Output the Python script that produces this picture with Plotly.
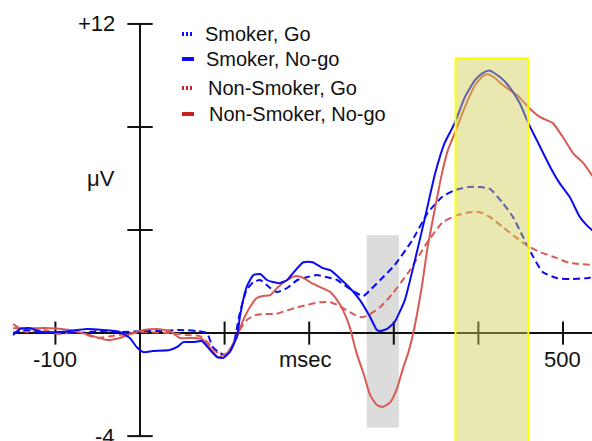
import plotly.graph_objects as go

# ---------------- data (ms, µV) ----------------
smoker_nogo_t = [-150, -142, -130, -115, -98, -83, -63, -44, -24, -12, -4, 4, 15, 35, 44, 51, 63, 73, 83, 91, 98, 106,
                 115, 118, 126, 134, 142, 150, 157, 165, 174, 181, 193, 204, 216, 225, 236, 248, 260, 272, 280, 284,
                 292, 301, 313, 325, 337, 349, 360, 372, 384, 396, 405, 413, 426, 437, 449, 459, 469, 485, 496, 508,
                 520, 528, 536]
smoker_nogo_v = [-0.08, 0.16, 0.19, 0.04, 0.04, 0.08, 0.16, 0.12, 0.04, -0.19, -0.54, -0.74, -0.70, -0.66, -0.54,
                 -0.35, -0.35, -0.31, -0.66, -0.93, -0.97, -0.74, -0.08, 0.62, 1.78, 2.25, 2.29, 2.06, 1.98, 1.94,
                 2.06, 2.33, 2.75, 2.75, 2.52, 2.44, 2.13, 1.75, 1.28, 0.62, 0.12, 0.08, 0.16, 0.43, 1.28, 2.83,
                 4.50, 6.21, 7.37, 8.15, 9.16, 9.82, 10.09, 10.19, 9.93, 9.54, 8.92, 8.15, 7.49, 6.44, 5.82, 5.28,
                 4.50, 4.19, 3.95]

smoker_go_t = [-150, -134, -115, -95, -74, -47, -24, 4, 24, 47, 67, 79, 86, 95, 100, 110, 118, 126, 134, 142, 154,
               162, 174, 186, 197, 209, 221, 233, 245, 256, 264, 272, 284, 301, 322, 340, 357, 372, 388, 402, 414,
               429, 441, 453, 465, 476, 493, 508, 528, 536]
smoker_go_v = [0.0, 0.12, 0.0, 0.04, 0.0, 0.08, 0.04, 0.08, 0.08, 0.12, 0.08, 0.0, -0.54, -0.78, -0.85, -0.47, 0.78,
               1.67, 1.98, 2.06, 1.75, 1.59, 1.75, 2.06, 2.17, 2.25, 2.17, 2.06, 1.78, 1.55, 1.44, 1.67, 2.06, 2.64,
               3.61, 4.66, 5.28, 5.55, 5.67, 5.67, 5.59, 5.04, 4.50, 3.72, 2.95, 2.37, 2.13, 2.10, 2.13, 2.17]

nonsmoker_nogo_t = [-150, -130, -106, -83, -59, -39, -24, -8, 4, 20, 35, 47, 63, 73, 83, 92, 103, 115, 122, 130, 138,
                    145, 154, 162, 174, 183, 191, 201, 213, 225, 233, 240, 248, 256, 264, 272, 280, 287, 296, 304,
                    311, 317, 323, 333, 340, 349, 357, 364, 372, 384, 396, 405, 411, 420, 429, 446, 459, 473, 488,
                    500, 512, 524, 536]
nonsmoker_nogo_v = [0.19, 0.19, 0.19, 0.12, -0.08, -0.27, -0.19, 0.0, 0.12, 0.16, 0.08, -0.19, -0.19, -0.23, -0.58,
                    -0.93, -0.78, -0.08, 0.50, 1.01, 1.36, 1.44, 1.47, 1.75, 2.06, 2.21, 2.17, 1.98, 1.78, 1.59,
                    1.28, 0.89, 0.23, -0.78, -1.55, -2.41, -2.79, -2.87, -2.68, -2.13, -1.36, -0.78, 0.0, 1.78,
                    3.34, 4.89, 6.21, 7.10, 7.76, 8.77, 9.62, 9.97, 10.05, 9.89, 9.62, 9.23, 8.77, 8.38, 8.15, 7.60,
                    6.98, 6.60, 6.05]

nonsmoker_go_t = [-150, -134, -115, -95, -74, -51, -35, -15, 4, 35, 56, 71, 83, 95, 106, 118, 126, 136, 148, 160,
                  171, 183, 197, 213, 225, 236, 248, 260, 268, 284, 299, 319, 339, 358, 375, 390, 402, 414, 429,
                  441, 457, 473, 493, 508, 536]
nonsmoker_go_v = [0.35, 0.04, 0.12, -0.04, 0.04, -0.19, -0.12, -0.04, 0.04, 0.0, -0.08, -0.12, -0.47, -0.85, -0.74,
                  0.12, 0.50, 0.70, 0.74, 0.74, 0.85, 0.97, 1.09, 1.20, 1.20, 1.05, 0.81, 0.62, 0.66, 1.01, 1.55,
                  2.44, 3.49, 4.31, 4.58, 4.69, 4.69, 4.50, 4.11, 3.80, 3.41, 3.14, 2.91, 2.72, 2.64]

series_names = ["Smoker, Go", "Smoker, No-go", "Non-Smoker, Go", "Non-Smoker, No-go"]

y_ticks = [-4, 4, 8, 12]
x_ticks = [-100, 100, 200, 300, 400, 500]
y_tick_labels = {12: "+12", -4: "-4"}
x_tick_labels = {-100: "-100", 500: "500"}

gray_window = (268, 306, -3.68, 3.8)
yellow_window = (373, 459, -4.6, 10.67)

# ---------------- styling ----------------
BLUE = "#0B0BF2"
RED = "#D85A55"
LEG_RED = "#CC2020"
FONT = "Arial, Liberation Sans, sans-serif"
W, H = 592, 441

fig = go.Figure()

def add(t, v, color, dash):
    fig.add_trace(go.Scatter(x=t, y=v, mode="lines", showlegend=False,
                             line=dict(color=color, width=2, dash=dash, shape="spline", smoothing=0.5)))

add(nonsmoker_go_t, nonsmoker_go_v, RED, "7px,4px")
add(smoker_go_t, smoker_go_v, BLUE, "7px,4px")
add(nonsmoker_nogo_t, nonsmoker_nogo_v, RED, "solid")
add(smoker_nogo_t, smoker_nogo_v, BLUE, "solid")

shapes = []
# gray window (below traces)
shapes.append(dict(type="rect", xref="x", yref="y", x0=gray_window[0], x1=gray_window[1],
                   y0=gray_window[2], y1=gray_window[3], fillcolor="#DCDCDC", line=dict(width=0), layer="below"))
# axes
shapes.append(dict(type="line", xref="x", yref="y", x0=-148, x1=545, y0=0, y1=0,
                   line=dict(color="#111", width=2), layer="below"))
shapes.append(dict(type="line", xref="x", yref="y", x0=0, x1=0, y0=-4, y1=12,
                   line=dict(color="#111", width=2), layer="below"))
for yt in y_ticks:
    shapes.append(dict(type="line", xref="x", yref="y", x0=-15, x1=15, y0=yt, y1=yt,
                       line=dict(color="#111", width=2), layer="below"))
for xt in x_ticks:
    shapes.append(dict(type="line", xref="x", yref="y", x0=xt, x1=xt, y0=-0.45, y1=0.45,
                       line=dict(color="#111", width=2), layer="below"))
# yellow window (above traces, translucent)
shapes.append(dict(type="rect", xref="x", yref="y", x0=yellow_window[0], x1=yellow_window[1],
                   y0=yellow_window[2], y1=yellow_window[3], fillcolor="rgba(205,205,80,0.45)",
                   line=dict(width=0), layer="above"))
shapes.append(dict(type="rect", xref="x", yref="y", x0=yellow_window[0], x1=yellow_window[1],
                   y0=yellow_window[2], y1=yellow_window[3], fillcolor="rgba(0,0,0,0)",
                   line=dict(color="#FFFF00", width=2), layer="above"))

# legend (manual)
leg_colors = [BLUE, BLUE, LEG_RED, LEG_RED]
leg_dash = ["2px,2px", "solid", "2px,2px", "solid"]
leg_y = [34, 59, 88, 114]
leg_text_x = [203, 204, 206, 207]
annotations = []
for name, c, d, py, tx in zip(series_names, leg_colors, leg_dash, leg_y, leg_text_x):
    shapes.append(dict(type="line", xref="paper", yref="paper", x0=182 / W, x1=194 / W,
                       y0=1 - py / H, y1=1 - py / H, line=dict(color=c, width=4, dash=d)))
    annotations.append(dict(text=name, xref="paper", yref="paper", x=tx / W, y=1 - py / H,
                            xanchor="left", yanchor="middle", showarrow=False,
                            font=dict(family=FONT, size=20, color="#111")))

for yt, lab in y_tick_labels.items():
    annotations.append(dict(text=lab, xref="x", yref="y", x=0, y=yt, xanchor="right", yanchor="middle",
                            xshift=-23, showarrow=False, font=dict(family=FONT, size=22, color="#111")))
for xt, lab in x_tick_labels.items():
    annotations.append(dict(text=lab, xref="x", yref="y", x=xt, y=0, xanchor="center", yanchor="top",
                            yshift=-12, showarrow=False, font=dict(family=FONT, size=22, color="#111")))
annotations.append(dict(text="msec", xref="x", yref="y", x=196, y=0, xanchor="center", yanchor="top",
                        yshift=-12, showarrow=False, font=dict(family=FONT, size=22, color="#111")))
annotations.append(dict(text="μV", xref="x", yref="y", x=-46, y=6.0, xanchor="center", yanchor="middle",
                        showarrow=False, font=dict(family=FONT, size=22, color="#111")))

fig.update_layout(
    width=W, height=H, margin=dict(l=0, r=0, t=0, b=0),
    paper_bgcolor="white", plot_bgcolor="white",
    xaxis=dict(range=[-165.5, 534.3], visible=False, fixedrange=True),
    yaxis=dict(range=[-4.19, 12.93], visible=False, fixedrange=True),
    shapes=shapes, annotations=annotations, showlegend=False,
)

fig.write_html("out.html")
